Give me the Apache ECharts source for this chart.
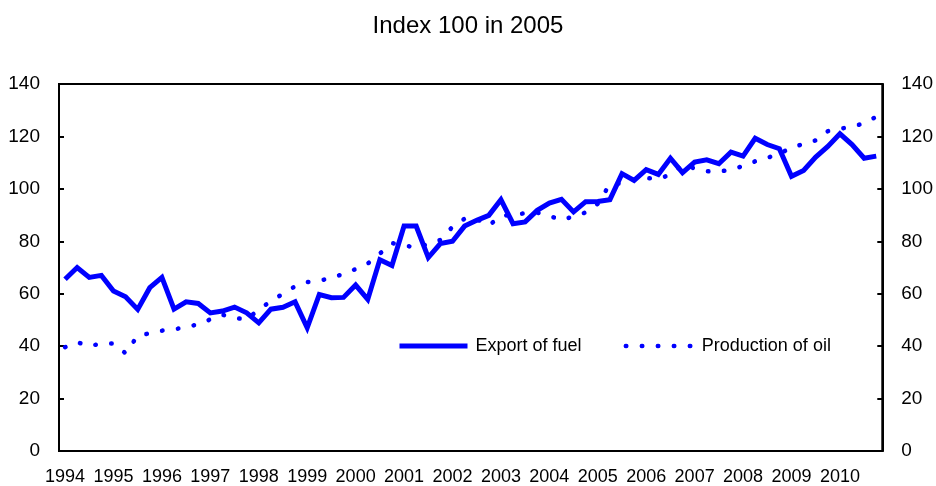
<!DOCTYPE html>
<html>
<head>
<meta charset="utf-8">
<script src="https://cdn.jsdelivr.net/npm/echarts@6/dist/echarts.min.js"></script>
<style>
  html, body { margin: 0; padding: 0; background: #fff; }
  #chart { width: 936px; height: 486px; }
</style>
</head>
<body>
<div id="chart"></div>
<script>
// quarterly data, 1994 Q1 .. 2010 Q4
var years = ['1994','1995','1996','1997','1998','1999','2000','2001','2002','2003','2004','2005','2006','2007','2008','2009','2010'];
var quarters = ['Q1','Q2','Q3','Q4'];

var exportFuel = [
  65.5, 70.0, 66.2, 67.0,
  61.0, 58.8, 54.0, 62.3,
  66.2, 54.1, 56.9, 56.3,
  52.7, 53.4, 54.9, 52.7,
  48.9, 54.1, 54.8, 56.9,
  47.0, 59.7, 58.5, 58.6,
  63.3, 57.8, 73.0, 70.8,
  85.8, 85.8, 73.8, 79.1,
  80.0, 85.8, 88.0, 89.9,
  95.9, 86.7, 87.4, 91.8,
  94.6, 96.0, 91.2, 95.1,
  95.2, 95.9, 105.8, 103.2,
  107.3, 105.5, 111.7, 106.2,
  110.2, 111.1, 109.6, 114.0,
  112.5, 119.3, 116.9, 115.3,
  104.8, 107.0, 112.1, 116.2,
  121.0, 116.9, 111.7, 112.5
];

var productionOil = [
  39.6, 41.5, 40.0, 41.0,
  41.0, 37.3, 44.0, 44.9,
  45.9, 46.4, 47.3, 48.3,
  50.2, 52.0, 50.8, 50.1,
  54.0, 57.1, 60.0, 62.8,
  64.4, 64.9, 66.1, 67.5,
  69.4, 71.5, 75.3, 79.3,
  78.5, 77.5, 79.0, 80.5,
  85.5, 88.6, 88.5, 86.0,
  89.7, 90.1, 90.7, 90.9,
  89.7, 88.1, 89.5, 91.0,
  94.3, 101.8, 102.1, 103.5,
  104.1, 103.8, 105.4, 109.3,
  107.8, 106.7, 106.6, 107.3,
  108.7, 110.5, 111.8, 113.5,
  115.6, 117.2, 118.5, 122.0,
  122.9, 123.7, 125.0, 127.5
];

var categories = [];
years.forEach(function (y) {
  quarters.forEach(function (q) { categories.push(y + ' ' + q); });
});

var font = "'Liberation Sans', Arial, sans-serif";
var blue = '#0000ff';
var solidLine = { color: blue, width: 5, join: 'miter' };
var dotLine = { color: blue, width: 4.5, type: [0.5, 15.5], cap: 'round' };

var yAxisBase = {
  type: 'value',
  min: 0,
  max: 140,
  interval: 20,
  axisLine: { show: true, lineStyle: { color: '#000', width: 2 } },
  axisTick: { show: true, inside: true, length: 5, lineStyle: { color: '#000', width: 2 } },
  splitLine: { show: false },
  axisLabel: { color: '#000', fontSize: 19, fontFamily: font, margin: 19 }
};

var option = {
  animation: false,
  backgroundColor: '#fff',
  title: {
    text: 'Index 100 in 2005',
    left: 'center',
    top: 9,
    textStyle: { color: '#000', fontSize: 24, fontWeight: 'normal', fontFamily: font }
  },
  legend: {
    left: 392,
    top: 332,
    itemWidth: 68,
    itemHeight: 14,
    itemGap: 42,
    itemStyle: { color: 'rgba(0,0,0,0)', borderWidth: 0, opacity: 0 },
    textStyle: { color: '#000', fontSize: 18, fontFamily: font, padding: [0, 0, 0, 3] },
    data: [
      { name: 'Export of fuel', lineStyle: solidLine },
      { name: 'Production of oil', lineStyle: dotLine }
    ]
  },
  grid: { left: 59, right: 49, top: 84, bottom: 35, show: true, borderColor: '#000', borderWidth: 2 },
  xAxis: {
    type: 'category',
    data: categories,
    boundaryGap: true,
    axisLine: { lineStyle: { color: '#000', width: 2 } },
    axisTick: { inside: true, length: 5, interval: 3, lineStyle: { color: '#000', width: 2 } },
    axisLabel: {
      interval: 3,
      hideOverlap: false,
      showMinLabel: true,
      color: '#000',
      fontSize: 18,
      fontFamily: font,
      margin: 17,
      formatter: function (v) { return v.slice(0, 4); }
    }
  },
  yAxis: [
    Object.assign({}, yAxisBase, { position: 'left' }),
    Object.assign({}, yAxisBase, { position: 'right' })
  ],
  series: [
    {
      name: 'Export of fuel',
      type: 'line',
      data: exportFuel,
      symbol: 'none',
      color: blue,
      lineStyle: solidLine,
      z: 3
    },
    {
      name: 'Production of oil',
      type: 'line',
      data: productionOil,
      symbol: 'none',
      color: blue,
      lineStyle: dotLine,
      z: 2
    }
  ]
};

var chart = echarts.init(document.getElementById('chart'));
chart.setOption(option);
</script>
</body>
</html>
